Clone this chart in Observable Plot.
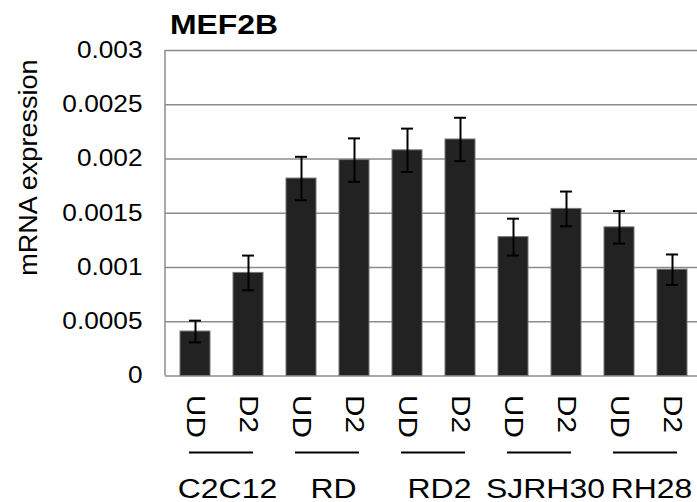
<!DOCTYPE html>
<html><head><meta charset="utf-8">
<script src="https://cdn.jsdelivr.net/npm/d3@7"></script>
<script src="https://cdn.jsdelivr.net/npm/@observablehq/plot@0.6"></script>
<style>body{margin:0;background:#fff}#chart svg{display:block}</style>
</head><body><div id="chart"></div>
<script>
const title = "MEF2B";
const yLabel = "mRNA expression";
const cellLines = ["C2C12", "RD", "RD2", "SJRH30", "RH28"];
const conditions = ["UD", "D2"];
const values = [0.00041, 0.00095, 0.00182, 0.00199, 0.00208, 0.00218, 0.00128, 0.00154, 0.00137, 0.00098];
const errors = [0.0001, 0.00016, 0.0002, 0.0002, 0.0002, 0.0002, 0.00017, 0.00016, 0.00015, 0.00014];
const yTicks = [0, 0.0005, 0.001, 0.0015, 0.002, 0.0025, 0.003];
const yTickLabels = ["0", "0.0005", "0.001", "0.0015", "0.002", "0.0025", "0.003"];

const rows = values.map((v, i) => ({
  key: cellLines[Math.floor(i / 2)] + " " + conditions[i % 2],
  cell: cellLines[Math.floor(i / 2)],
  cond: conditions[i % 2],
  value: v,
  err: errors[i]
}));
const keys = rows.map(d => d.key);

const FONT = "'Liberation Sans', Arial, Helvetica, sans-serif";
const W = 697, H = 502, mL = 165, mT = 50, mB = 126.5;
const GRID = "#8c8c8c";

function decorations(index, scales, vals, dims) {
  const x = scales.x, y = scales.y;
  const bw = x.bandwidth ? x.bandwidth() : 0;
  const y0 = y(0);
  const g = d3.create("svg:g");
  g.append("line")
    .attr("x1", dims.marginLeft).attr("x2", dims.marginLeft)
    .attr("y1", dims.marginTop).attr("y2", dims.height - dims.marginBottom)
    .attr("stroke", GRID).attr("stroke-width", 1.5);
  cellLines.forEach((c, i) => {
    const a = x(keys[2 * i]) + bw / 2, b = x(keys[2 * i + 1]) + bw / 2, m = (a + b) / 2;
    g.append("line")
      .attr("x1", m - 32.5).attr("x2", m + 31.5)
      .attr("y1", y0 + 77).attr("y2", y0 + 77)
      .attr("stroke", "#000").attr("stroke-width", 2);
    g.append("text")
      .attr("x", m + 6).attr("y", y0 + 122.5)
      .attr("text-anchor", "middle")
      .attr("font-size", 28)
      .attr("fill", "#000")
      .text(c);
  });
  return g.node();
}

const plot = Plot.plot({
  width: W, height: H,
  marginLeft: mL, marginRight: 0, marginTop: mT, marginBottom: mB,
  style: {fontFamily: FONT, fontSize: "23px", color: "#000", background: "#fff", overflow: "visible"},
  x: {type: "band", domain: keys, range: [mL, 702], paddingInner: 0.44, paddingOuter: 0.22, axis: null},
  y: {domain: [0, 0.003], ticks: yTicks, tickFormat: d => yTickLabels[yTicks.indexOf(d)], tickSize: 0, tickPadding: 23, label: null},
  marks: [
    Plot.ruleY(yTicks, {stroke: GRID, strokeWidth: 1.5}),
    decorations,
    Plot.barY(rows, {x: "key", y: "value", fill: "#222", stroke: "#777", strokeWidth: 1}),
    Plot.ruleX(rows, {x: "key", y1: d => d.value - d.err, y2: d => d.value + d.err, stroke: "#000", strokeWidth: 2}),
    Plot.tickY(rows, {x: "key", y: d => d.value + d.err, stroke: "#000", strokeWidth: 2, insetLeft: 9, insetRight: 9}),
    Plot.tickY(rows, {x: "key", y: d => d.value - d.err, stroke: "#000", strokeWidth: 2, insetLeft: 9, insetRight: 9}),
    Plot.text(rows, {x: "key", text: "cond", frameAnchor: "bottom", dy: 19, rotate: 90, textAnchor: "start", lineAnchor: "middle", fontSize: 26, fill: "#000"}),
    Plot.text([yLabel], {text: d => d, frameAnchor: "left", dx: -137, dy: -45.6, rotate: -90, textAnchor: "middle", lineAnchor: "middle", fontSize: 26, fill: "#000"}),
    Plot.text([title], {text: d => d, frameAnchor: "top-left", dx: 4.4, dy: -25.5, textAnchor: "start", lineAnchor: "middle", fontSize: 28, fontWeight: "bold", fill: "#000"})
  ]
});

// widen glyphs along reading direction to match reference metrics
plot.querySelectorAll("text").forEach(t => {
  const S = t.textContent === yLabel ? 1.04 : 1.14;
  const x = +t.getAttribute("x") || 0, y = +t.getAttribute("y") || 0;
  const tr = t.getAttribute("transform") || "";
  t.setAttribute("transform", `${tr} translate(${x},${y}) scale(${S},1) translate(${-x},${-y})`.trim());
});

document.getElementById("chart").appendChild(plot);
</script>
</body></html>
